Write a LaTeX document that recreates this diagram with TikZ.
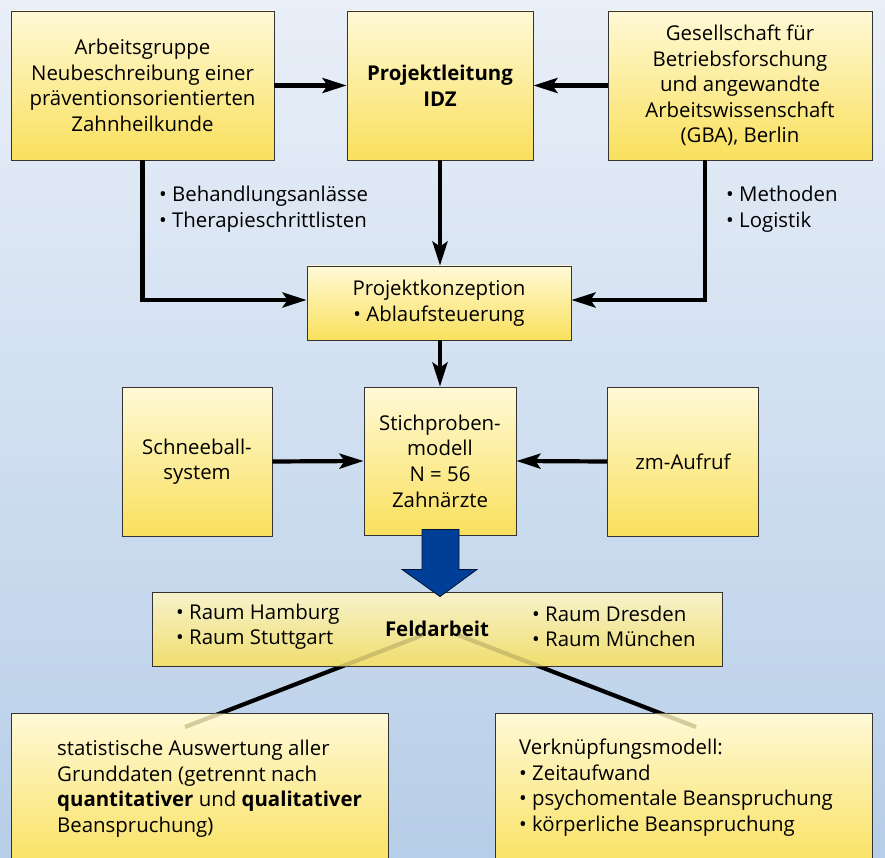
\documentclass[tikz,border=0pt]{standalone}
\usepackage{fontspec}
\setmainfont{Open Sans}
\usetikzlibrary{arrows.meta,calc}
\definecolor{bgtop}{RGB}{233,239,248}
\definecolor{bgbot}{RGB}{183,206,232}
\definecolor{bxtop}{RGB}{255,249,215}
\definecolor{bxbot}{RGB}{249,224,92}
\definecolor{fbtop}{RGB}{247,242,205}
\definecolor{fbbot}{RGB}{240,222,110}
\definecolor{arrblue}{RGB}{0,63,152}
\definecolor{fadeline}{RGB}{150,140,80}
\begin{document}
\begin{tikzpicture}[x=1pt,y=-1pt,
  txt/.style={font=\fontsize{20.4}{25.6}\selectfont},
  box/.style={txt,draw=black!80,line width=0.9pt,top color=bxtop,bottom color=bxbot,align=center,inner sep=0pt},
  conn/.style={line width=4.2pt,-{Stealth[length=24pt,width=15pt,inset=5pt]}},
  plain/.style={line width=4.2pt},
  lbl/.style={txt,align=left,inner sep=0pt,anchor=west}]
\useasboundingbox (0,0) rectangle (885,858);
\clip (0,0) rectangle (885,858);
\shade[top color=bgtop,bottom color=bgbot] (0,0) rectangle (885,858);

% nodes
\node[box,minimum width=263pt,minimum height=149pt] (A) at (142.5,85.5) {Arbeitsgruppe\\Neubeschreibung einer\\präventionsorientierten\\Zahnheilkunde};
\node[box,minimum width=186pt,minimum height=149pt,font=\fontsize{20.4}{25.6}\selectfont\bfseries] (P) at (440,85.5) {Projektleitung\\IDZ};
\node[box,minimum width=264pt,minimum height=149pt] (G) at (740,85.5) {Gesellschaft für\\Betriebsforschung\\und angewandte\\Arbeitswissenschaft\\(GBA), Berlin};
\node[box,minimum width=264pt,minimum height=74pt] (K) at (439,303) {Projektkonzeption\\• Ablaufsteuerung};
\node[box,minimum width=150pt,minimum height=149pt] (Sch) at (197,461.5) {Schneeball-\\system};
\node[box,minimum width=152pt,minimum height=148pt] (S) at (440,461) {Stichproben-\\modell\\N = 56\\Zahnärzte};
\node[box,minimum width=151pt,minimum height=149pt] (Z) at (683,461.5) {zm-Aufruf};

% connectors top part
\draw[conn] (A.east) -- (P.west);
\draw[conn] (G.west) -- (P.east);
\draw[conn] (A.south) |- ($(K.west)+(0,-3)$);
\draw[conn] ($(G.south)+(-35,0)$) |- ($(K.east)+(0,-3)$);
\draw[conn] (P.south) -- (P.south |- K.north);
\draw[conn] (K.south -| S.north) -- (S.north);
\draw[conn] (Sch.east) -- (S.west);
\draw[conn] (Z.west) -- (S.east);

\node[lbl] (lb1) at (159,209) {• Behandlungsanlässe\\• Therapieschrittlisten};
\node[lbl] (lb2) at (726,209) {• Methoden\\• Logistik};

% Feldarbeit and lower boxes
\coordinate (fl) at (423,635);
\coordinate (fr) at (458,635);
\coordinate (le) at (185,727);
\coordinate (re) at (696,727);
\draw[plain] (fl) -- (le);
\draw[plain] (fr) -- (re);

\node[box,top color=fbtop,bottom color=fbbot,minimum width=570pt,minimum height=74pt,font=\fontsize{20.4}{25.6}\selectfont\bfseries] (F) at (437,629) {Feldarbeit};
\node[lbl] (f1) at (176,626.5) {• Raum Hamburg\\• Raum Stuttgart};
\node[lbl] (f2) at (532,626.5) {• Raum Dresden\\• Raum München};

\node[box,minimum width=377pt,minimum height=160pt,anchor=north] (L) at (199.5,713) {};
\node[box,minimum width=377pt,minimum height=160pt,anchor=north] (R) at (683.5,713) {};
\begin{scope}
  \clip (F.south west) rectangle (F.north east)
        (L.south west) rectangle (L.north east)
        (R.south west) rectangle (R.north east);
  \draw[plain,draw=fadeline,draw opacity=0.4] (fl) -- (le);
  \draw[plain,draw=fadeline,draw opacity=0.4] (fr) -- (re);
\end{scope}

\node[lbl] (lt) at (57,788.5) {statistische Auswertung aller\\Grunddaten (getrennt nach\\\textbf{quantitativer} und \textbf{qualitativer}\\Beanspruchung)};
\node[lbl] (rt) at (519,787.5) {Verknüpfungsmodell:\\• Zeitaufwand\\• psychomentale Beanspruchung\\• körperliche Beanspruchung};

% blue block arrow from S to F
\draw[draw=black!70!arrblue,line width=0.8pt,fill=arrblue]
  ($(S.south)+(-18,-6)$) -- ($(S.south)+(19,-6)$) -- ($(S.south)+(19,34)$) -- ($(S.south)+(37,34)$)
  -- ($(F.north)+(3,5)$) -- ($(S.south)+(-38,34)$) -- ($(S.south)+(-18,34)$) -- cycle;
\end{tikzpicture}
\end{document}
